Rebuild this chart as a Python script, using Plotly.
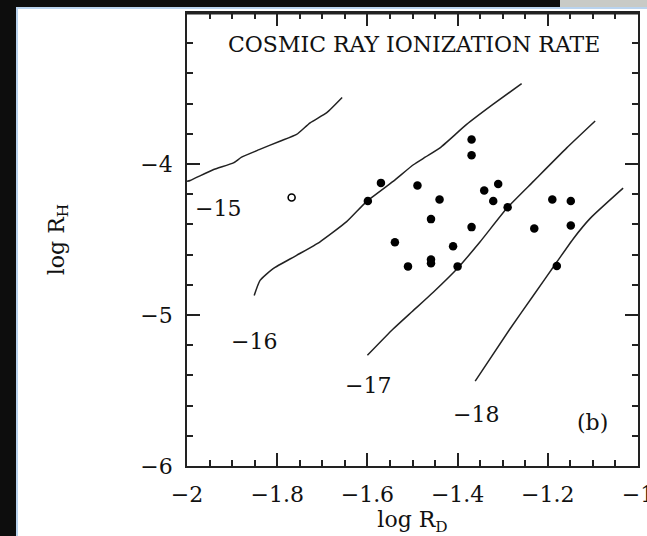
import plotly.graph_objects as go

# ---- data ----
obs_logRD = [-1.369, -1.369, -1.570, -1.599, -1.489, -1.440, -1.341, -1.310, -1.321,
             -1.289, -1.459, -1.369, -1.539, -1.410, -1.510, -1.459, -1.459, -1.400,
             -1.190, -1.149, -1.230, -1.149, -1.180]
obs_logRH = [-3.838, -3.942, -4.125, -4.245, -4.142, -4.235, -4.175, -4.133, -4.245,
             -4.287, -4.365, -4.418, -4.518, -4.545, -4.678, -4.633, -4.658, -4.678,
             -4.235, -4.245, -4.427, -4.407, -4.675]
open_logRD = [-1.768]
open_logRH = [-4.222]

levels = ["−15", "−16", "−17", "−18"]
c15_x = [-2.000, -1.993, -1.942, -1.897, -1.879, -1.840, -1.794, -1.757, -1.727, -1.690, -1.656]
c15_y = [-4.115, -4.109, -4.038, -3.993, -3.955, -3.905, -3.849, -3.804, -3.727, -3.660, -3.560]
c16_x = [-1.851, -1.838, -1.809, -1.757, -1.705, -1.646, -1.602, -1.543, -1.498, -1.472,
         -1.439, -1.380, -1.321, -1.258]
c16_y = [-4.871, -4.771, -4.693, -4.605, -4.515, -4.382, -4.249, -4.115, -4.005, -3.955,
         -3.893, -3.738, -3.604, -3.467]
c17_x = [-1.600, -1.543, -1.500, -1.454, -1.400, -1.350, -1.289, -1.232, -1.158, -1.095]
c17_y = [-5.267, -5.093, -4.975, -4.849, -4.690, -4.515, -4.287, -4.115, -3.893, -3.715]
c18_x = [-1.361, -1.284, -1.232, -1.180, -1.143, -1.106, -1.033]
c18_y = [-5.438, -5.093, -4.871, -4.649, -4.493, -4.360, -4.160]

x_ticks = [-2, -1.8, -1.6, -1.4, -1.2, -1]
x_ticktext = ["−2", "−1.8", "−1.6", "−1.4", "−1.2", "−1"]
y_ticks = [-6, -5, -4]
y_ticktext = ["−6", "−5", "−4"]

FONT = "DejaVu Serif"
INK = "#111"
X_RANGE = [-2, -1]
Y_RANGE = [-6, -3]

fig = go.Figure()
for cx, cy in [(c15_x, c15_y), (c16_x, c16_y), (c17_x, c17_y), (c18_x, c18_y)]:
    fig.add_trace(go.Scatter(x=cx, y=cy, mode="lines",
                             line=dict(color="#222", width=1.5, shape="spline", smoothing=0.5),
                             showlegend=False, hoverinfo="skip"))
fig.add_trace(go.Scatter(x=obs_logRD, y=obs_logRH, mode="markers",
                         marker=dict(color="black", size=8.5, line=dict(width=0)),
                         showlegend=False))
fig.add_trace(go.Scatter(x=open_logRD, y=open_logRH, mode="markers",
                         marker=dict(color="white", size=7, line=dict(color="black", width=1.6)),
                         showlegend=False))
# empty trace so the minor-tick overlay axes get drawn
fig.add_trace(go.Scatter(x=[None], y=[None], xaxis="x2", yaxis="y2", mode="markers",
                         showlegend=False, hoverinfo="skip"))

label_pos = [(-1.931, -4.297), (-1.851, -5.176), (-1.598, -5.465), (-1.360, -5.661)]
for txt, (lx, ly) in zip(levels, label_pos):
    fig.add_annotation(x=lx, y=ly, text=txt, showarrow=False,
                       font=dict(family=FONT, size=22, color=INK))
fig.add_annotation(x=-1.100, y=-5.712, text="(b)", showarrow=False,
                   font=dict(family=FONT, size=22, color=INK))
fig.add_annotation(x=-1.497, y=-3.21, text="COSMIC RAY IONIZATION RATE", showarrow=False,
                   font=dict(family=FONT, size=22, color=INK))

# scan frame (dark border strips)
px = lambda p: (p - 187) / 451.0
py = lambda p: (466 - p) / 453.0
frame = [
    dict(x0=px(-5), x1=px(16), y0=py(540), y1=py(-5), fillcolor="#0d0d0d"),
    dict(x0=px(16), x1=px(18), y0=py(540), y1=py(7), fillcolor="#b9d3ee"),
    dict(x0=px(-5), x1=px(560), y0=py(7), y1=py(-5), fillcolor="#0d0d0d"),
    dict(x0=px(560), x1=px(650), y0=py(7), y1=py(-5), fillcolor="#c8cac6"),
    dict(x0=px(16), x1=px(650), y0=py(9), y1=py(7), fillcolor="#b9d3ee"),
]
for f in frame:
    fig.add_shape(type="rect", xref="paper", yref="paper", line=dict(width=0), layer="below", **f)
fig.add_shape(type="line", xref="paper", yref="paper", x0=0, x1=1, y0=1, y1=1,
              line=dict(color="#222", width=3))

axis_common = dict(showline=True, linecolor="#222", linewidth=1.6, mirror="allticks",
                   ticks="inside", ticklen=13, tickwidth=1.5, tickcolor="#222",
                   showgrid=False, zeroline=False, automargin=False,
                   ticklabeloverflow="allow",
                   tickfont=dict(family=FONT, size=22, color=INK))
minor_common = dict(ticks="inside", ticklen=6, tickwidth=1.5, tickcolor="#222",
                    mirror="allticks", showline=False, showticklabels=False,
                    showgrid=False, zeroline=False, automargin=False, tickmode="linear")
fig.update_layout(
    xaxis=dict(range=X_RANGE, tickmode="array", tickvals=x_ticks, ticktext=x_ticktext,
               ticklabelstandoff=8,
               title=dict(text="log R<sub>D</sub>", font=dict(family=FONT, size=22, color=INK),
                          standoff=2),
               **axis_common),
    yaxis=dict(range=Y_RANGE, tickmode="array", tickvals=y_ticks, ticktext=y_ticktext,
               ticklabelstandoff=8,
               title=dict(text="log R<sub>H</sub>", font=dict(family=FONT, size=22, color=INK),
                          standoff=70),
               **axis_common),
    # minor ticks: overlay axes sharing the same ranges
    xaxis2=dict(range=X_RANGE, overlaying="x", anchor="y", side="bottom",
                tick0=-2, dtick=0.05, **minor_common),
    yaxis2=dict(range=Y_RANGE, overlaying="y", anchor="x", side="left",
                tick0=-6, dtick=0.2, **minor_common),
    width=647, height=536, margin=dict(l=187, r=9, t=13, b=70),
    paper_bgcolor="white", plot_bgcolor="white", showlegend=False)
fig.write_html("out.html")
